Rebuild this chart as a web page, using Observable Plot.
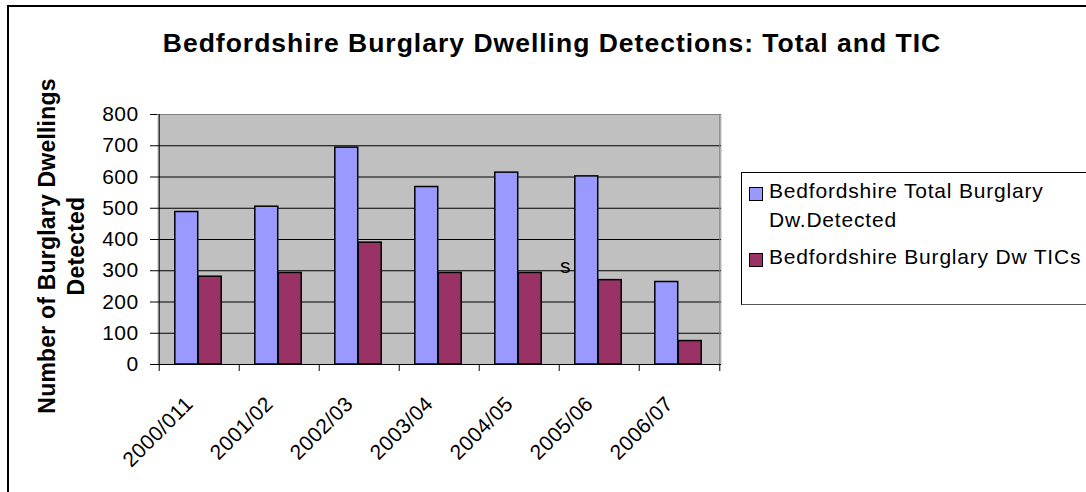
<!DOCTYPE html>
<html>
<head>
<meta charset="utf-8">
<script src="https://cdn.jsdelivr.net/npm/d3@7"></script>
<script src="https://cdn.jsdelivr.net/npm/@observablehq/plot@0.6"></script>
<style>
  html, body { margin: 0; padding: 0; background: #fff; }
  #wrap {
    position: relative; width: 1086px; height: 492px; overflow: hidden;
    background: #fff; font-family: "Liberation Sans", Arial, sans-serif; color: #000;
  }
  #border {
    position: absolute; left: 7px; top: 5px; width: 2000px; height: 2000px;
    border-left: 2px solid #000; border-top: 2px solid #000;
  }
  #chart { position: absolute; left: 0; top: 0; }
  #chart svg text { letter-spacing: 0.4px; }
  #title {
    position: absolute; left: 552px; top: 30px; transform: translateX(-50%);
    white-space: nowrap; font-weight: bold; font-size: 26.5px; line-height: 26px;
    letter-spacing: 1px;
  }
  #ylabel {
    position: absolute; left: 62px; top: 246px; white-space: nowrap;
    transform: translate(-50%, -50%) rotate(-90deg);
    font-weight: bold; font-size: 23px; line-height: 29px; text-align: center;
    letter-spacing: 0.2px;
  }
  #legend {
    position: absolute; left: 741px; top: 172px; width: 400px; height: 131px;
    border: 1px solid #000; border-bottom-color: #555;
  }
  .item { position: absolute; left: 7px; font-size: 21px; line-height: 29px; letter-spacing: 0.8px; }
  .swatch {
    position: absolute; left: 0; width: 12px; height: 12px; border: 1px solid #000;
  }
  .item .txt { position: absolute; left: 20px; top: 0; white-space: nowrap; }
  #note { position: absolute; left: 560px; top: 254px; font-size: 21px; line-height: 24px; }
</style>
</head>
<body>
<div id="wrap">
  <div id="border"></div>
  <div id="chart"></div>
  <div id="title"></div>
  <div id="ylabel"></div>
  <div id="legend"></div>
  <span id="note"></span>
</div>
<script>
// Financial years and detections per year
const years = ["2000/011", "2001/02", "2002/03", "2003/04", "2004/05", "2005/06", "2006/07"];
const totalDetected = [488, 505, 694, 568, 614, 602, 264];
const ticDetected = [281, 293, 390, 293, 293, 270, 75];
const seriesNames = ["Bedfordshire Total Burglary\nDw.Detected", "Bedfordshire Burglary Dw TICs"];
const seriesColors = ["#9999FF", "#993366"];
const yTicks = [0, 100, 200, 300, 400, 500, 600, 700, 800];
const titleText = "Bedfordshire Burglary Dwelling Detections: Total and TIC";
const yLabelLines = ["Number of Burglary Dwellings", "Detected"];
const noteText = "s";

const rows = years.map((year, i) => ({year, total: totalDetected[i], tic: ticDetected[i]}));

// Plot area geometry
const W = 1086, H = 492;
const areaLeft = 157, areaRight = 721, areaTop = 114, areaBottom = 364;
const step = (areaRight - areaLeft) / years.length;
const tickLen = 7 * (yTicks[yTicks.length - 1] - yTicks[0]) / (areaBottom - areaTop); // 7px in y units
const barW = 23.5, barOff = 15.8;

const chart = Plot.plot({
  width: W,
  height: H,
  marginLeft: areaLeft,
  marginRight: W - areaRight,
  marginTop: areaTop,
  marginBottom: H - areaBottom,
  style: {background: "transparent", fontFamily: "'Liberation Sans', Arial, sans-serif", fontSize: "21px", color: "#000"},
  x: {domain: years, padding: 0, label: null},
  y: {domain: [yTicks[0], yTicks[yTicks.length - 1]], label: null},
  marks: [
    Plot.frame({fill: "#C0C0C0", stroke: "none"}),
    Plot.gridY(yTicks.slice(1, -1), {stroke: "#000", strokeOpacity: 1}),
    Plot.ruleY([yTicks[yTicks.length - 1]], {stroke: "#808080"}),
    Plot.ruleX([years[years.length - 1]], {dx: step / 2, stroke: "#808080"}),
    Plot.barY(rows, {
      x: "year", y: "total", fill: seriesColors[0], stroke: "#000", strokeWidth: 1.5,
      insetLeft: barOff, insetRight: step - barOff - barW
    }),
    Plot.barY(rows, {
      x: "year", y: "tic", fill: seriesColors[1], stroke: "#000", strokeWidth: 1.5,
      insetLeft: barOff + barW, insetRight: step - barOff - 2 * barW
    }),
    // axis lines
    Plot.ruleY([0], {stroke: "#000"}),
    Plot.ruleX([years[0]], {dx: -step / 2, stroke: "#000"}),
    // category boundary ticks
    Plot.ruleX(years, {x: d => d, y1: 0, y2: -tickLen, dx: -step / 2, stroke: "#000"}),
    Plot.ruleX([years[years.length - 1]], {x: d => d, y1: 0, y2: -tickLen, dx: step / 2, stroke: "#000"}),
    Plot.axisY(yTicks, {tickSize: 7, tickPadding: 12, fontSize: 21, label: null, stroke: "#000"}),
    Plot.axisX({tickSize: 0, tickRotate: -45, tickPadding: 36, fontSize: 21, dx: -10, label: null})
  ]
});
document.getElementById("chart").append(chart);

document.getElementById("title").textContent = titleText;
document.getElementById("ylabel").innerHTML = yLabelLines.join("<br>");
document.getElementById("note").textContent = noteText;

// legend
const legend = document.getElementById("legend");
const itemTops = [3, 69];
seriesNames.forEach((name, i) => {
  const item = document.createElement("div");
  item.className = "item";
  item.style.top = itemTops[i] + "px";
  const sw = document.createElement("div");
  sw.className = "swatch";
  sw.style.background = seriesColors[i];
  sw.style.top = "11px";
  const txt = document.createElement("div");
  txt.className = "txt";
  txt.innerHTML = name.split("\n").join("<br>");
  item.append(sw, txt);
  legend.append(item);
});
</script>
</body>
</html>
